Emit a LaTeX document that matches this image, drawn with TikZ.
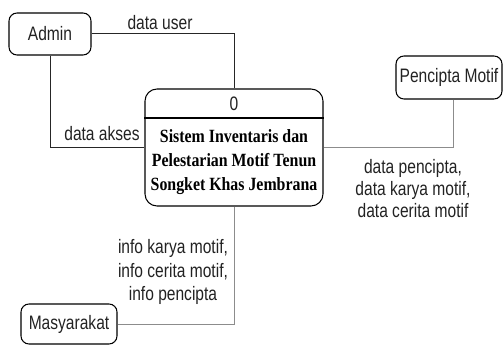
\documentclass[tikz,border=0pt]{standalone}
\usepackage{fontspec}
\newfontfamily\lblfont[FakeStretch=0.8]{Liberation Sans}
\newfontfamily\ttlfont[FakeStretch=0.85]{Liberation Serif}
\definecolor{lgray}{HTML}{8C8C8C}
\definecolor{txt}{HTML}{222222}
\begin{document}
\begin{tikzpicture}[x=0.75pt,y=-0.75pt,
  ent/.style={draw=black, line width=0.8pt, rounded corners=6pt, inner sep=0pt,
    font={\lblfont\fontsize{14.6}{16.5}\selectfont}, text=txt},
  procbox/.style={draw=black, line width=0.8pt, rounded corners=9pt, inner sep=0pt,
    minimum width=133.5pt, minimum height=87.75pt},
  lbl/.style={inner sep=0pt, align=center, text=txt,
    font={\lblfont\fontsize{14.6}{16.5}\selectfont}},
  lblb/.style={inner sep=0pt, align=center, text=txt,
    font={\lblfont\fontsize{14.6}{17.5}\selectfont}},
  ttl/.style={inner sep=0pt, align=center, text=black,
    font={\ttlfont\bfseries\fontsize{14}{18}\selectfont}},
  conn/.style={line width=0.75pt, draw=black!85},
  conng/.style={line width=0.75pt, draw=lgray}]
\useasboundingbox (0,0) rectangle (503,345);
\node[ent, minimum width=61.5pt, minimum height=31.5pt] (admin) at (50,34) {Admin};
\node[ent, minimum width=79.5pt, minimum height=32.25pt] (pencipta) at (449,77.5) {Pencipta Motif};
\node[ent, minimum width=72pt, minimum height=30pt] (masy) at (69,324) {Masyarakat};
\node[procbox] (proc) at (234,147.5) {};
\draw[line width=0.8pt] (proc.west |- 0,118) -- (proc.east |- 0,118);
\node[lbl] (zero) at (234,104) {0};
\node[ttl] (title) at (234,162) {Sistem Inventaris dan\\Pelestarian Motif Tenun\\Songket Khas Jembrana};
\draw[conn] (admin.east) -| (proc.north);
\draw[conn] (admin.south) |- (proc.west);
\draw[conng] ([xshift=3pt]pencipta.south) |- (proc.east);
\draw[conng] (masy.east) -| (proc.south);
\node[lbl] (lu) at (160,23) {data user};
\node[lbl] (la) at (102,134) {data akses};
\node[lbl] (lp) at (413,189) {data pencipta,\\data karya motif,\\data cerita motif};
\node[lblb] (lm) at (173,272) {info karya motif,\\info cerita motif,\\info pencipta};
\end{tikzpicture}
\end{document}
